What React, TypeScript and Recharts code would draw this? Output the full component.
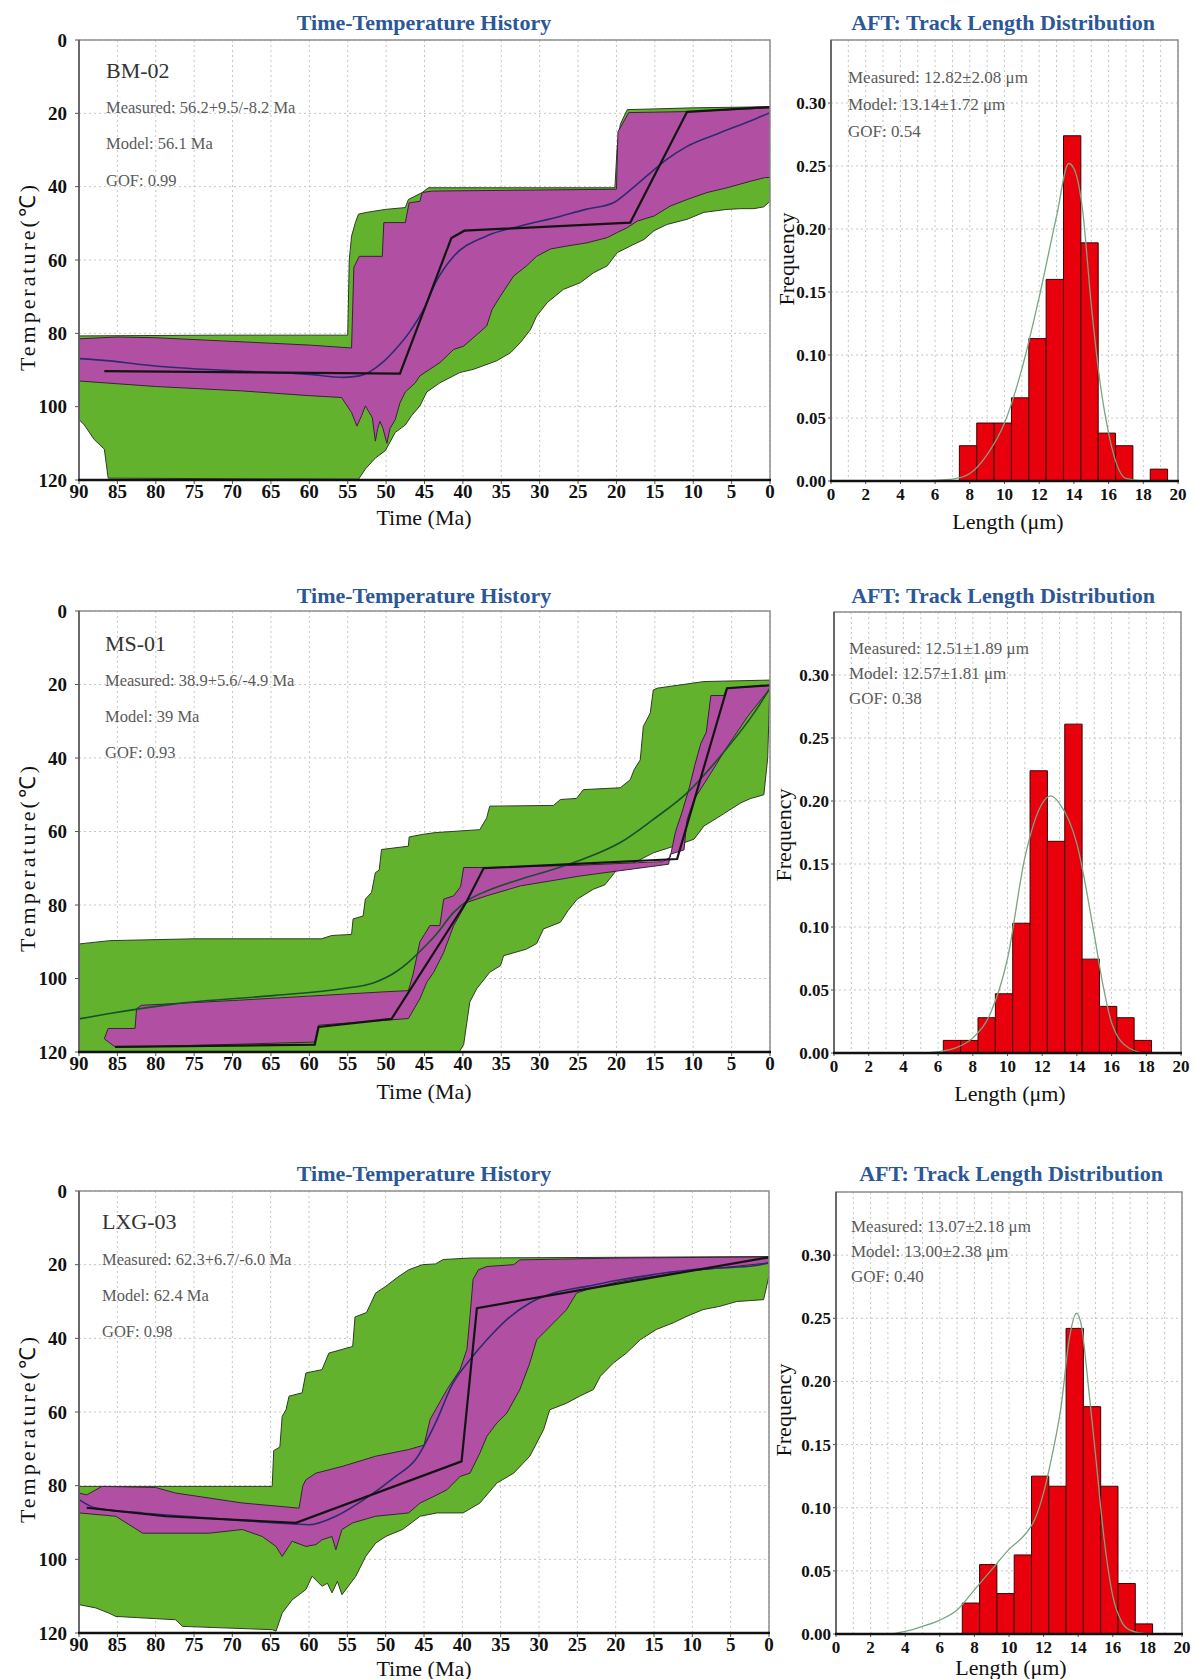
import React from 'react';
import {
  ComposedChart,
  XAxis,
  YAxis,
  CartesianGrid,
  Scatter,
  Line,
  ReferenceArea,
} from 'recharts';

type Pt = [number, number];

const FONT = '"Liberation Serif", "Times New Roman", serif';

const timeTicks = [90, 85, 80, 75, 70, 65, 60, 55, 50, 45, 40, 35, 30, 25, 20, 15, 10, 5, 0];
const tempTicks = [0, 20, 40, 60, 80, 100, 120];
const lengthTicks = [0, 2, 4, 6, 8, 10, 12, 14, 16, 18, 20];
const lengthGrid = [0, 1, 2, 3, 4, 5, 6, 7, 8, 9, 10, 11, 12, 13, 14, 15, 16, 17, 18, 19, 20];
const freqTicks = [0, 0.05, 0.1, 0.15, 0.2, 0.25, 0.3];

// ---- BM-02 time-temperature paths [Ma, °C] ----
const bmAcceptable: Pt[] = [
  [90, 80.7], [72, 80.5], [55, 80.5], [54.8, 60], [54.5, 53.5], [54, 49.8], [53.6, 47.5], [52.5, 47],
  [50.1, 46.2], [47.5, 45.7], [47.1, 43.5], [45.3, 41.6], [44.5, 40.3], [20.2, 40.3], [19.9, 29],
  [19.5, 23], [18.6, 19], [10, 18.5], [0, 18.2],
  [0, 44], [0.8, 45.5], [2.1, 46], [3.8, 46], [5.6, 46.2], [8.6, 47], [10.8, 48.9], [13.4, 50.3],
  [15.1, 52], [16.4, 54.4], [18.2, 56.2], [19.9, 58], [21.2, 61.6], [23, 63.5], [24.7, 66.2],
  [26.9, 68], [29, 71.6], [30.4, 75.3], [31.2, 79], [32.5, 82.5], [33.8, 85.3], [35.6, 87.5],
  [38.6, 89.8], [40.4, 90.7], [43, 93.5], [44.7, 96], [45.6, 99.8], [46.7, 102.5], [47.5, 105],
  [48.8, 107], [50.1, 112], [51.4, 114], [52.7, 117], [53.6, 119.8], [86.2, 119.5], [86.7, 111.6],
  [88, 109], [89.3, 105], [90, 103.5],
];
const bmGood: Pt[] = [
  [90, 81.5], [85, 81], [80, 81.2], [70, 82.2], [60, 83.2], [54.5, 84], [54.2, 62], [53.5, 59],
  [50.5, 59], [50.3, 49.8], [47.5, 49.8], [47, 44.4], [45.6, 44], [45.3, 41.6], [44, 41.2],
  [20, 40.7], [19.8, 25], [18.4, 19.8], [10, 19.5], [0, 18.5],
  [0, 37.5], [0.6, 37.5], [2.5, 38.5], [5.6, 40.3], [8.2, 41.6], [10.8, 43.5], [13, 45.3],
  [15.1, 48], [17.3, 49.4], [18.6, 51.2], [19.9, 52.5], [21.2, 53.9], [23.8, 55.3], [26.5, 56.2],
  [28.6, 57], [30.4, 59], [31.7, 61.6], [33.4, 64.4], [35.1, 69.8], [36.2, 73.5], [36.9, 78],
  [39.9, 83.5], [41.2, 84.4], [43, 88], [45.6, 91.6], [46.2, 93.5], [47.5, 96], [48.2, 99],
  [48.8, 103.5], [49.5, 106], [49.9, 110], [50.4, 106], [50.8, 104], [51.1, 106], [51.4, 109.4],
  [51.8, 103], [52.7, 99.8], [53.2, 102.5], [53.8, 105.3], [54.5, 101.6], [55.8, 97.5], [60, 97],
  [68.8, 95.7], [80, 94.5], [90, 93],
];
const bmBest: Pt[] = [[86.7, 90.3], [48.2, 91], [41.5, 54], [39.8, 52], [18.2, 49.8], [10.8, 19.6], [0, 18.3]];
const bmMean: Pt[] = [
  [90, 86.9], [86, 87.5], [82, 88.5], [77, 89.4], [69, 90.3], [60, 91.2], [55.5, 92], [53.5, 91.6],
  [52, 90.3], [50.5, 88], [48.8, 84.4], [47, 79.8], [45, 73], [43.5, 66], [41.2, 59], [37, 53.5],
  [32.5, 50.7], [28, 48.5], [24, 46.2], [20.4, 44.4], [18.6, 41.6], [16, 37], [13.4, 32.5],
  [10.8, 29], [6.5, 25.3], [2, 21.6], [0, 19.8],
];

// ---- MS-01 ----
const msAcceptable: Pt[] = [
  [90, 90.6], [86, 89.7], [75, 89.2], [58.4, 89.2], [57.1, 88.3], [54.5, 88], [54.3, 83.8], [53, 83],
  [52.7, 78.4], [51.9, 76.6], [51.4, 71.2], [50.9, 70.5], [50.6, 64.9], [47.1, 64], [47, 61.5],
  [45.3, 60.8], [43.6, 60.3], [37.8, 59.5], [36.9, 56.3], [36.5, 53.1], [28.2, 52.9], [27.3, 51.3],
  [25.2, 51], [24.3, 48.6], [19.5, 48.1], [18.2, 45.9], [17.7, 43.2], [16.9, 40.5], [16.5, 31.4],
  [15.6, 27.8], [15.2, 21.5], [14.7, 21], [8.6, 19.2], [0, 18.8],
  [0.3, 40], [0.8, 50], [2.5, 51], [3.8, 52.2], [6.5, 55.8], [8.6, 58.5], [9.9, 62.1], [12.5, 64],
  [15.2, 65.8], [17.7, 68.5], [19.9, 70.3], [21.5, 74.5], [23, 75.7], [25.1, 78.4], [26.3, 81.5],
  [27.3, 84.7], [29.5, 86.5], [30.4, 90.5], [31.7, 92], [34.7, 93.8], [35.1, 96.5], [36.5, 98.3],
  [38.2, 102.8], [39.1, 106.4], [39.9, 118], [40.5, 120], [90, 120],
];
const msGood: Pt[] = [
  [86.7, 116.4], [86.2, 113.6], [82.7, 113.6], [82.5, 108.2], [81.9, 107.3], [70, 106], [60, 104.8],
  [50, 103.6], [47.1, 103.3], [46.5, 99], [45.6, 90], [45, 88], [44.3, 85.6], [43, 85.6],
  [42.5, 78.4], [41.2, 77.5], [40.3, 75], [39.9, 69.8], [37.8, 69.8], [25, 69.2], [14, 68.2],
  [13, 67], [12.3, 60], [11.5, 55], [10.5, 48], [9.8, 42], [9, 36], [8.3, 33], [7.7, 23], [6, 23],
  [5.6, 21], [0, 20.3],
  [0, 21], [2.9, 28.7], [5.6, 37], [7.7, 44.1], [9.9, 51.3], [10.8, 56.8], [11.2, 65], [13, 66.2],
  [13.2, 68.9], [24.7, 72.1], [32.5, 74.8], [36.9, 77.5], [39.5, 79.3], [41.2, 85.6], [42.5, 92.9],
  [43.8, 98.3], [44.7, 101], [45.6, 105.5], [47.1, 110.9], [58.8, 112.7], [59.3, 117.3],
  [81.9, 118.6], [85.3, 118.6], [86.2, 117.2],
];
const msBest: Pt[] = [[85.3, 118.6], [59.3, 118], [58.8, 113.2], [49.3, 111], [39.5, 79], [37.3, 70], [12.1, 67.5], [5.6, 21], [0, 20.2]];
const msMean: Pt[] = [
  [90, 111], [86.2, 109.6], [77.5, 106.9], [64.5, 104.6], [55.8, 102.8], [51.4, 101], [48.8, 98.3],
  [47.1, 95.6], [45.3, 92], [43.6, 88.3], [41.2, 82], [39.1, 78.4], [36.9, 76.2], [32.5, 73],
  [28.2, 70.3], [23.8, 67.1], [19.5, 63], [15.2, 56.7], [10.8, 49.5], [6.5, 39.6], [2.1, 27.8], [0, 21],
];

// ---- LXG-03 ----
const lxgAcceptable: Pt[] = [
  [90, 80.2], [64.8, 80.2], [64.6, 70.5], [63.8, 69.5], [63.5, 61.2], [63, 59.4], [62.6, 55.7],
  [60.9, 54.8], [60.4, 49.4], [58.3, 48.5], [57.4, 44], [54.3, 42.2], [54, 34.2], [52.5, 33],
  [51.3, 27.7], [50, 25.9], [48.5, 23.5], [47, 21.4], [45.2, 20], [43.5, 19.8], [42.5, 18.6],
  [39, 18.2], [0, 17.8],
  [0, 23], [0.7, 29.5], [4.2, 30], [6.4, 31.3], [8.6, 32.2], [10.7, 34], [12.5, 35.8], [14.7, 37.6],
  [16.8, 40.4], [18.6, 44], [20.3, 46.7], [22, 50.3], [22.9, 53.9], [24.7, 55.7], [26.4, 57.6],
  [28.6, 59.4], [29.4, 64.8], [31.2, 72], [33.3, 76.6], [35.5, 79.3], [37.7, 84.7], [39.9, 87.4],
  [43.3, 87.4], [45.5, 88.3], [47.8, 91.9], [50, 93.8], [51.3, 95.6], [52.6, 99.2], [53.9, 104.6],
  [55.7, 109.6], [56.3, 106], [57, 109.1], [57.6, 106.5], [58.3, 107.3], [59.6, 104.6], [60.4, 108.2],
  [62.2, 111], [63.5, 114.6], [64.3, 119.5], [64.8, 119.1], [76.5, 118.2], [77.4, 116.4],
  [85.2, 115.5], [86.1, 114.6], [87.8, 113.2], [90, 112.3],
];
const lxgGood: Pt[] = [
  [90, 82], [89, 82.5], [87, 80.2], [80, 80.5], [77.4, 82], [68.7, 84.7], [61.3, 86.1], [60.8, 80],
  [60.4, 78.4], [59.1, 76.6], [55.7, 74.8], [51.3, 72], [47, 70.2], [45, 69], [44.2, 62], [42, 53.9],
  [40.3, 48.5], [39.4, 43], [39, 34], [38.6, 24], [37.9, 21.4], [36.8, 20.5], [33.3, 20],
  [32.5, 18.7], [19.4, 18.2], [0, 17.9],
  [0, 19.5], [6.4, 20.9], [10.7, 21.8], [15.1, 23.2], [19.4, 24.5], [23.8, 26.8], [25.1, 27.7],
  [26.4, 32.2], [28.1, 35.8], [30.3, 40.4], [31.2, 46.7], [32.5, 53.9], [34.2, 60.3], [35.5, 63],
  [36.8, 66.6], [37.7, 71.1], [39, 76.6], [40.3, 77.5], [42, 81.1], [43.7, 82.9], [45.5, 84.7],
  [47, 87.4], [51.3, 88.3], [54.3, 90.1], [55.7, 91.9], [56.5, 97.4], [57, 93.8], [58.3, 94.7],
  [59.1, 96], [60.4, 96.5], [62.2, 95.1], [63.5, 99.2], [64.3, 96.5], [66.1, 93.8], [68.7, 91.9],
  [73, 92.9], [81.7, 92.9], [85.2, 88.3], [90, 87.4],
];
const lxgBest: Pt[] = [[89, 86], [78.7, 88.3], [61.7, 90.1], [40.1, 73.4], [38.1, 31.8], [0, 18]];
const lxgMean: Pt[] = [
  [90, 83.8], [87.8, 86.1], [81.7, 87.4], [73, 88.8], [64.3, 90.1], [60, 90.6], [56.5, 88.3],
  [52.2, 82.9], [48.7, 77.5], [46.1, 72.9], [43.5, 63], [41.2, 52.1], [39, 45.8], [36.8, 40.4],
  [34.2, 34.9], [31.2, 30.4], [28.1, 27.7], [23.8, 25.9], [19.4, 24.1], [15.1, 22.7], [10.7, 21.5],
  [6.4, 20.9], [2, 20.3], [0, 19.5],
];

// ---- track length histograms (bin start in µm, frequency) ----
const BIN = 1;
const bmBins = [7.4, 8.4, 9.4, 10.4, 11.4, 12.4, 13.4, 14.4, 15.4, 16.4, 17.4, 18.4];
const bmFreq = [0.028, 0.046, 0.046, 0.066, 0.113, 0.16, 0.274, 0.189, 0.038, 0.028, 0, 0.0094];
const bmModel: Pt[] = [
  [0, 0], [5, 0], [6, 0.0005], [7, 0.0015], [8, 0.006], [9, 0.021], [10, 0.046], [11, 0.089],
  [12, 0.146], [13, 0.21], [13.7, 0.252], [14, 0.248], [14.5, 0.215], [15, 0.14], [15.5, 0.079],
  [16, 0.038], [16.5, 0.012], [17, 0.002], [18, 0], [20, 0],
];
const msBins = [6.3, 7.3, 8.3, 9.3, 10.3, 11.3, 12.3, 13.3, 14.3, 15.3, 16.3, 17.3];
const msFreq = [0.01, 0.01, 0.028, 0.047, 0.103, 0.224, 0.168, 0.261, 0.0745, 0.037, 0.028, 0.01];
const msModel: Pt[] = [
  [0, 0], [5, 0], [6, 0.001], [7, 0.004], [8, 0.012], [9, 0.031], [10, 0.075], [11, 0.155],
  [12, 0.198], [12.5, 0.204], [13, 0.198], [14, 0.166], [15, 0.094], [15.5, 0.054], [16, 0.024],
  [17, 0.004], [18, 0], [20, 0],
];
const lxgBins = [7.3, 8.3, 9.3, 10.3, 11.3, 12.3, 13.3, 14.3, 15.3, 16.3, 17.3];
const lxgFreq = [0.0245, 0.055, 0.032, 0.0626, 0.125, 0.117, 0.242, 0.18, 0.117, 0.04, 0.008];
const lxgModel: Pt[] = [
  [0, 0], [3, 0], [4, 0.002], [5, 0.006], [6, 0.011], [7, 0.019], [8, 0.035], [9, 0.051],
  [10, 0.067], [11, 0.08], [11.5, 0.091], [12, 0.112], [12.5, 0.142], [13, 0.179], [13.5, 0.235],
  [13.9, 0.254], [14.2, 0.243], [14.5, 0.208], [15, 0.142], [15.5, 0.075], [16, 0.03],
  [16.5, 0.01], [17, 0.003], [18, 0], [20, 0],
];

const GREEN = '#62b22e';
const MAGENTA = '#b150a3';
const TITLE_BLUE = '#2b5797';

const toTT = (pts: Pt[]) => pts.map(([t, T]) => ({ t, T }));
const toPolygon = (pts: Pt[]) => toTT([...pts, pts[0]]);
const toModel = (pts: Pt[]) => pts.map(([x, f]) => ({ x, f }));
const noDot = () => <g />;

const tickStyle = { fontFamily: FONT, fontSize: 19, fontWeight: 'bold', fill: '#111' };
const histTickStyle = { fontFamily: FONT, fontSize: 17, fontWeight: 'bold', fill: '#111' };

type Box = { x: number; y: number; w: number; h: number };

const TTPanel = ({ box, acceptable, good, best, mean, meanColor }: any) => (
  <div style={{ position: 'absolute', left: box.x - 60, top: box.y - 10 }}>
    <ComposedChart
      width={box.w + 70}
      height={box.h + 50}
      margin={{ top: 10, right: 10, bottom: 10, left: 10 }}
    >
      <CartesianGrid stroke="#c6c6c6" strokeDasharray="2 3" />
      <XAxis
        type="number"
        dataKey="t"
        domain={[0, 90]}
        reversed
        allowDataOverflow
        ticks={timeTicks}
        interval={0}
        height={30}
        axisLine={false}
        tickSize={4}
        tickMargin={1}
        tickLine={{ stroke: '#555' }}
        tick={tickStyle}
      />
      <YAxis
        type="number"
        dataKey="T"
        domain={[0, 120]}
        reversed
        allowDataOverflow
        ticks={tempTicks}
        interval={0}
        width={50}
        axisLine={false}
        tickSize={4}
        tickMargin={8}
        tickLine={{ stroke: '#555' }}
        tick={tickStyle}
      />
      <Scatter
        data={toPolygon(acceptable)}
        shape={noDot}
        line={{ fill: GREEN, stroke: '#2f3d22', strokeWidth: 1 }}
        isAnimationActive={false}
      />
      <Scatter
        data={toPolygon(good)}
        shape={noDot}
        line={{ fill: MAGENTA, stroke: '#3a2238', strokeWidth: 1 }}
        isAnimationActive={false}
      />
      <Scatter
        data={toTT(mean)}
        shape={noDot}
        line={{ stroke: meanColor, strokeWidth: 1.6, fill: 'none' }}
        lineJointType="monotoneX"
        isAnimationActive={false}
      />
      <Scatter
        data={toTT(best)}
        shape={noDot}
        line={{ stroke: '#141414', strokeWidth: 2.2, fill: 'none' }}
        isAnimationActive={false}
      />
    </ComposedChart>
  </div>
);

const HistPanel = ({ box, bins, freq, model }: any) => (
  <div style={{ position: 'absolute', left: box.x - 60, top: box.y - 10 }}>
    <ComposedChart
      width={box.w + 70}
      height={box.h + 50}
      margin={{ top: 10, right: 10, bottom: 10, left: 10 }}
    >
      <CartesianGrid
        stroke="#c6c6c6"
        strokeDasharray="2 3"
        verticalCoordinatesGenerator={({ offset }: any) =>
          lengthGrid.map((v) => offset.left + (v / 20) * offset.width)
        }
      />
      <XAxis
        type="number"
        dataKey="x"
        domain={[0, 20]}
        allowDataOverflow
        ticks={lengthTicks}
        interval={0}
        height={30}
        axisLine={false}
        tickSize={3}
        tickMargin={4}
        tickLine={{ stroke: '#555' }}
        tick={histTickStyle}
      />
      <YAxis
        type="number"
        domain={[0, 0.35]}
        allowDataOverflow
        ticks={freqTicks}
        interval={0}
        width={50}
        axisLine={false}
        tickSize={3}
        tickMargin={2}
        tickLine={{ stroke: '#555' }}
        tick={histTickStyle}
        tickFormatter={(v: number) => v.toFixed(2)}
      />
      {bins.map((b: number, i: number) =>
        freq[i] > 0 ? (
          <ReferenceArea
            key={i}
            x1={b}
            x2={b + BIN}
            y1={0}
            y2={freq[i]}
            fill="#e8000c"
            fillOpacity={1}
            stroke="#3d0000"
            strokeWidth={1}
          />
        ) : null
      )}
      <Line
        data={toModel(model)}
        dataKey="f"
        type="monotone"
        stroke="#79a582"
        strokeWidth={1.3}
        dot={false}
        activeDot={false}
        isAnimationActive={false}
      />
    </ComposedChart>
  </div>
);

const rows = [
  {
    tt: { x: 79, y: 40, w: 691, h: 440 },
    hist: { x: 831, y: 40, w: 347, h: 441 },
    acceptable: bmAcceptable, good: bmGood, best: bmBest, mean: bmMean, meanColor: '#2e2a72',
    bins: bmBins, freq: bmFreq, model: bmModel,
    titleY: 22, histTitleX: 1003, nameX: 106, nameY: 70, infoY: [107, 143, 180],
    sample: 'BM-02', info: ['Measured: 56.2+9.5/-8.2 Ma', 'Model: 56.1 Ma', 'GOF: 0.99'],
    histInfoX: 848, histInfoY: [77, 104, 131],
    histInfo: ['Measured: 12.82±2.08 μm', 'Model: 13.14±1.72 μm', 'GOF: 0.54'],
    timeY: 517, lenX: 1008, lenY: 521, tempY: 278, freqX: 786, freqY: 259,
  },
  {
    tt: { x: 79, y: 611, w: 691, h: 441 },
    hist: { x: 834, y: 612, w: 347, h: 441 },
    acceptable: msAcceptable, good: msGood, best: msBest, mean: msMean, meanColor: '#17502b',
    bins: msBins, freq: msFreq, model: msModel,
    titleY: 595, histTitleX: 1003, nameX: 105, nameY: 643, infoY: [680, 716, 752],
    sample: 'MS-01', info: ['Measured: 38.9+5.6/-4.9 Ma', 'Model: 39 Ma', 'GOF: 0.93'],
    histInfoX: 849, histInfoY: [648, 673, 698],
    histInfo: ['Measured: 12.51±1.89 μm', 'Model: 12.57±1.81 μm', 'GOF: 0.38'],
    timeY: 1091, lenX: 1010, lenY: 1093, tempY: 859, freqX: 783, freqY: 835,
  },
  {
    tt: { x: 79, y: 1191, w: 690, h: 442 },
    hist: { x: 836, y: 1192, w: 346, h: 442 },
    acceptable: lxgAcceptable, good: lxgGood, best: lxgBest, mean: lxgMean, meanColor: '#2e2a72',
    bins: lxgBins, freq: lxgFreq, model: lxgModel,
    titleY: 1173, histTitleX: 1011, nameX: 102, nameY: 1221, infoY: [1259, 1295, 1331],
    sample: 'LXG-03', info: ['Measured: 62.3+6.7/-6.0 Ma', 'Model: 62.4 Ma', 'GOF: 0.98'],
    histInfoX: 851, histInfoY: [1226, 1251, 1276],
    histInfo: ['Measured: 13.07±2.18 μm', 'Model: 13.00±2.38 μm', 'GOF: 0.40'],
    timeY: 1668, lenX: 1011, lenY: 1667, tempY: 1430, freqX: 783, freqY: 1410,
  },
];

const Frame = ({ box }: { box: Box }) => (
  <g>
    <rect x={box.x} y={box.y} width={box.w} height={box.h} fill="none" stroke="#8e8e8e" strokeWidth={1.5} />
    <line x1={box.x} y1={box.y} x2={box.x} y2={box.y + box.h} stroke="#555" strokeWidth={1.5} />
    <line x1={box.x - 1} y1={box.y + box.h} x2={box.x + box.w + 1} y2={box.y + box.h} stroke="#111" strokeWidth={2.6} />
  </g>
);

export default function App() {
  return (
    <div
      style={{
        position: 'absolute',
        left: 0,
        top: 0,
        width: 1194,
        height: 1679,
        background: '#fff',
        fontFamily: FONT,
        overflow: 'hidden',
      }}
    >
      {rows.map((r, i) => (
        <React.Fragment key={i}>
          <TTPanel
            box={r.tt}
            acceptable={r.acceptable}
            good={r.good}
            best={r.best}
            mean={r.mean}
            meanColor={r.meanColor}
          />
          <HistPanel box={r.hist} bins={r.bins} freq={r.freq} model={r.model} />
        </React.Fragment>
      ))}
      <svg
        width={1194}
        height={1679}
        style={{ position: 'absolute', left: 0, top: 0, pointerEvents: 'none' }}
        fontFamily={FONT}
      >
        {rows.map((r, i) => (
          <g key={i}>
            <Frame box={r.tt} />
            <Frame box={r.hist} />
            <text x={424} y={r.titleY} textAnchor="middle" dominantBaseline="central" fontSize={22} fontWeight="bold" fill={TITLE_BLUE}>
              Time-Temperature History
            </text>
            <text x={r.histTitleX} y={r.titleY} textAnchor="middle" dominantBaseline="central" fontSize={22} fontWeight="bold" fill={TITLE_BLUE}>
              AFT: Track Length Distribution
            </text>
            <text x={r.nameX} y={r.nameY} dominantBaseline="central" fontSize={22} fill="#333">
              {r.sample}
            </text>
            {r.info.map((s, j) => (
              <text key={j} x={r.nameX} y={r.infoY[j]} dominantBaseline="central" fontSize={16.5} fill="#5a5a5a">
                {s}
              </text>
            ))}
            {r.histInfo.map((s, j) => (
              <text key={j} x={r.histInfoX} y={r.histInfoY[j]} dominantBaseline="central" fontSize={17} fill="#5a5a5a">
                {s}
              </text>
            ))}
            <text x={424} y={r.timeY} textAnchor="middle" dominantBaseline="central" fontSize={22} fill="#111">
              Time (Ma)
            </text>
            <text x={r.lenX} y={r.lenY} textAnchor="middle" dominantBaseline="central" fontSize={22} fill="#111">
              Length (μm)
            </text>
            <text
              x={27}
              y={r.tempY}
              textAnchor="middle"
              dominantBaseline="central"
              fontSize={22}
              fill="#111"
              transform={`rotate(-90 27 ${r.tempY})`}
              textLength={186}
              lengthAdjust="spacing"
            >
              Temperature(℃)
            </text>
            <text
              x={r.freqX}
              y={r.freqY}
              textAnchor="middle"
              dominantBaseline="central"
              fontSize={22}
              fill="#111"
              transform={`rotate(-90 ${r.freqX} ${r.freqY})`}
            >
              Frequency
            </text>
          </g>
        ))}
      </svg>
    </div>
  );
}
